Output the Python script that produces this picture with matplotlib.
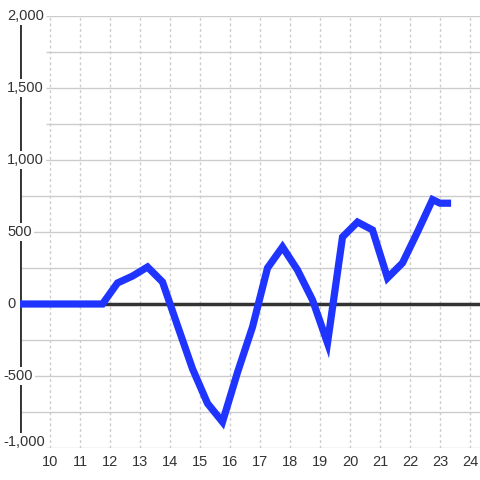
import matplotlib
matplotlib.use("Agg")
import matplotlib.pyplot as plt
import matplotlib.transforms as mtransforms

plt.rcParams['font.family'] = ['Liberation Sans', 'DejaVu Sans']

# data
x_vals = [9.0, 11.75, 12.25, 12.75, 13.25, 13.75, 14.25, 14.75, 15.25, 15.75,
          16.25, 16.75, 17.25, 17.75, 18.25, 18.75, 19.25, 19.75, 20.25, 20.75,
          21.25, 21.75, 22.25, 22.75, 23.0, 23.25]
y_vals = [0, 0, 146, 194, 257, 153, -150, -450, -690, -819,
          -475, -160, 250, 396, 236, 28, -271, 465, 569, 514,
          181, 285, 500, 725, 700, 700]
x_ticks = list(range(10, 25))
y_label_vals = [2000, 1500, 1000, 500, 0, -500, -1000]
y_label_text = ['2,000', '1,500', '1,000', '500', '0', '-500', '-1,000']
y_grid_vals = list(range(-1000, 2001, 250))

TXT = '#333333'
fig = plt.figure(figsize=(4.8, 4.8), dpi=100)
ax = fig.add_axes([20/480, 32/480, 460/480, 432/480])
ax.set_xlim(9, 24 + 1/3)
ax.set_ylim(-1000, 2000)
for s in ax.spines.values():
    s.set_visible(False)

# grid
for v in y_grid_vals:
    x0 = 9 + 26/30 if (v >= 1250 or v == -1000) else 9
    ax.hlines(v, x0, 24 + 1/3, colors='#cccccc', linewidth=1, zorder=1)
ax.vlines(x_ticks, -1000, 2000, colors='#cccccc', linewidth=1,
          linestyles=(0, (2, 2)), zorder=1)

# y axis line
ax.vlines([9], -1000, 2000, colors=TXT, linewidth=2.8, zorder=2)
# zero line
ax.axhline(0, color=TXT, linewidth=2.5, zorder=2)

# data
ax.plot(x_vals, y_vals, color='#1f35ff', linewidth=5.2, solid_capstyle='projecting',
        solid_joinstyle='miter', zorder=4)

# x ticks
ax.set_xticks(x_ticks)
ax.set_xticklabels([str(t) for t in x_ticks])
ax.tick_params(axis='x', length=0, pad=5, labelsize=10.5, labelcolor=TXT)
ax.set_yticks([])

# y labels (left aligned near the figure edge)
for v, t in zip(y_label_vals, y_label_text):
    dx = -4/100 if v < 0 else 0
    dy = 6/100 if v == -1000 else 0
    tr = ax.get_yaxis_transform() + mtransforms.ScaledTranslation(dx, dy, fig.dpi_scale_trans)
    ax.text(-13/460, v, t, transform=tr, ha='left', va='center',
            fontsize=10.5, color=TXT, zorder=3, clip_on=False,
            bbox=dict(facecolor='white', edgecolor='none', pad=1.5))

fig.savefig('out.png', dpi=100, facecolor='white')
